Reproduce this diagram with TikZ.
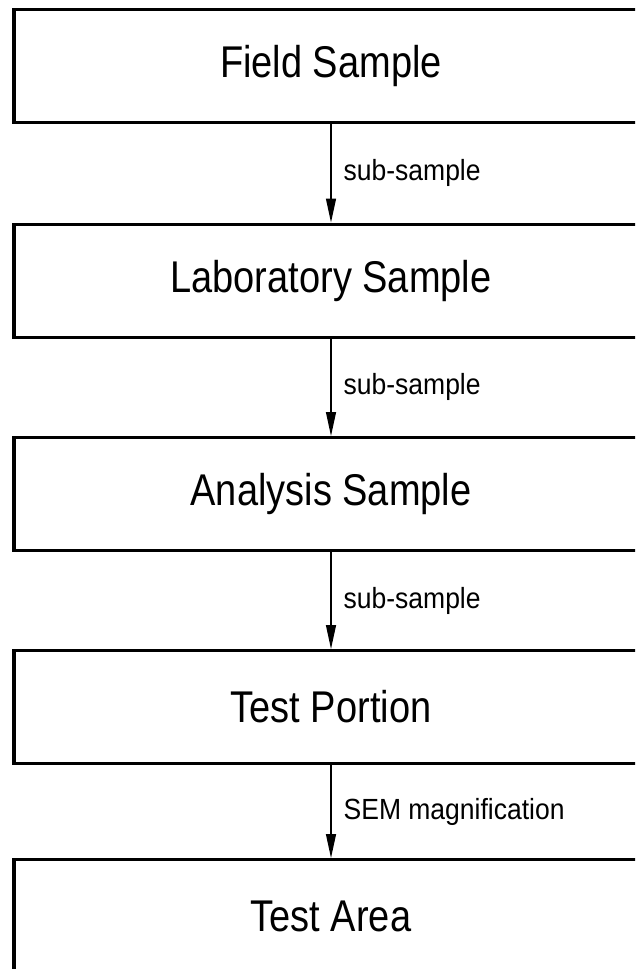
\documentclass[tikz,border=0pt]{standalone}
\usepackage{fontspec}
\usepackage{graphicx}
\setmainfont{Liberation Sans}
\usetikzlibrary{arrows.meta}
\newcommand{\tallbox}[1]{\scalebox{1}[1.17]{#1}}
\newcommand{\talllbl}[1]{\scalebox{1}[1.1]{#1}}
\begin{document}
\begin{tikzpicture}[x=1pt,y=-1pt,
  stage/.style={draw, line width=3.2pt, minimum width=634pt, minimum height=113pt,
    inner sep=0pt, anchor=north, font=\fontsize{38}{44}\selectfont},
  flow/.style={line width=1.3pt, -{Triangle[length=24pt,width=10pt]}},
  lbl/.style={anchor=west, xshift=12pt, inner sep=0pt, font=\fontsize{26.5}{30}\selectfont}]
\useasboundingbox (0,0) rectangle (635,969);
\clip (0,0) rectangle (635,969);
\node[stage] (a) at (331,8) {\tallbox{Field Sample}};
\node[stage] (b) at (331,222.5) {\tallbox{Laboratory Sample}};
\node[stage] (c) at (331,436) {\tallbox{Analysis Sample}};
\node[stage] (d) at (331,649) {\tallbox{Test Portion}};
\node[stage] (e) at (331,858) {\tallbox{Test Area}};
\draw[flow] (a.south) -- node[lbl] {\talllbl{sub-sample}} (b.north);
\draw[flow] (b.south) -- node[lbl] {\talllbl{sub-sample}} (c.north);
\draw[flow] (c.south) -- node[lbl] {\talllbl{sub-sample}} (d.north);
\draw[flow] (d.south) -- node[lbl] {\talllbl{SEM magnification}} (e.north);
\end{tikzpicture}
\end{document}
